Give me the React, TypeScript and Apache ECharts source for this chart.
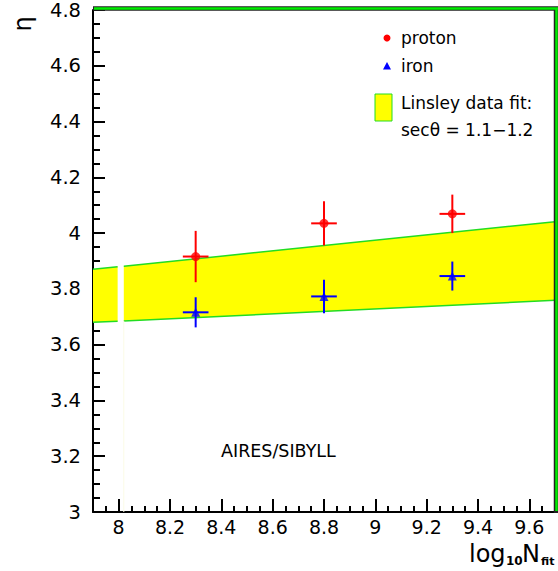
import React, { useEffect, useRef } from "react";
import * as echarts from "echarts";

// ---- data ----
const xTicks = [8, 8.2, 8.4, 8.6, 8.8, 9, 9.2, 9.4, 9.6];
const xMin = 7.9;
const xMax = 9.7;
const yMin = 3;
const yMax = 4.8;

const protonX = [8.3, 8.8, 9.3];
const protonY = [3.916, 4.035, 4.069];
const protonXErr = [0.05, 0.05, 0.05];
const protonYErr = [0.092, 0.079, 0.069];

const ironX = [8.3, 8.8, 9.3];
const ironY = [3.716, 3.773, 3.846];
const ironXErr = [0.05, 0.05, 0.05];
const ironYErr = [0.054, 0.06, 0.052];

// Linsley data fit band (secθ = 1.1–1.2), drawn in two segments
const bandXStart = [7.9, 8.02];
const bandXEnd = [7.996, 9.7];
const bandLowerStart = [3.68, 3.685];
const bandLowerEnd = [3.684, 3.759];
const bandUpperStart = [3.87, 3.881];
const bandUpperEnd = [3.879, 4.041];

const FONT = "DejaVu Sans";
const GREEN = "#22dd22";

export default function App() {
  const ref = useRef<HTMLDivElement>(null);
  useEffect(() => {
    if (!ref.current) return;
    const chart = echarts.init(ref.current, undefined, { renderer: "svg" });

    const bandData = bandXStart.map((x0, i) => [
      x0,
      bandXEnd[i],
      bandLowerStart[i],
      bandLowerEnd[i],
      bandUpperStart[i],
      bandUpperEnd[i],
    ]);

    const errRender = (params: any, api: any) => {
      const x = api.value(0);
      const y = api.value(1);
      const xe = api.value(2);
      const ye = api.value(3);
      const l = api.coord([x - xe, y]);
      const r = api.coord([x + xe, y]);
      const t = api.coord([x, y + ye]);
      const b = api.coord([x, y - ye]);
      const color = api.visual("color");
      return {
        type: "group",
        children: [
          { type: "line", shape: { x1: l[0], y1: l[1], x2: r[0], y2: r[1] }, style: { stroke: color, lineWidth: 2 } },
          { type: "line", shape: { x1: t[0], y1: t[1], x2: b[0], y2: b[1] }, style: { stroke: color, lineWidth: 2 } },
        ],
      };
    };

    const option: any = {
      animation: false,
      grid: { left: 93, right: 3, top: 9, bottom: 59, containLabel: false },
      xAxis: {
        type: "value",
        min: xMin,
        max: xMax,
        splitNumber: 9,
        axisLine: { show: true, onZero: false, lineStyle: { color: "#000", width: 2 } },
        axisTick: { show: true, inside: true, length: 13, customValues: xTicks, lineStyle: { color: "#000", width: 2 } },
        minorTick: { show: true, splitNumber: 4, length: 6, lineStyle: { color: "#000", width: 2 } },
        axisLabel: {
          customValues: xTicks,
          fontFamily: FONT,
          fontSize: 19,
          color: "#000",
          margin: 5,
          formatter: (v: number) => String(Math.round(v * 10) / 10),
        },
        splitLine: { show: false },
      },
      yAxis: {
        type: "value",
        min: yMin,
        max: yMax,
        interval: 0.2,
        axisLine: { show: true, onZero: false, lineStyle: { color: "#000", width: 2 } },
        axisTick: { show: true, inside: true, length: 12, lineStyle: { color: "#000", width: 2 } },
        minorTick: { show: true, splitNumber: 4, length: 7, lineStyle: { color: "#000", width: 2 } },
        axisLabel: {
          fontFamily: FONT,
          fontSize: 19.5,
          color: "#000",
          margin: 12,
          padding: [5, 0, 0, 0],
          formatter: (v: number) => String(Math.round(v * 10) / 10),
        },
        splitLine: { show: false },
      },
      series: [
        {
          type: "custom",
          name: "band",
          data: bandData,
          encode: { x: [0, 1], y: [2, 3, 4, 5] },
          z: 1,
          renderItem: (params: any, api: any) => {
            const x0 = api.value(0), x1 = api.value(1);
            const lo0 = api.value(2), lo1 = api.value(3);
            const up0 = api.value(4), up1 = api.value(5);
            const p0 = api.coord([x0, lo0]);
            const p1 = api.coord([x1, lo1]);
            const p2 = api.coord([x1, up1]);
            const p3 = api.coord([x0, up0]);
            const base = api.coord([x0, yMin]);
            const children: any[] = [
              { type: "polygon", shape: { points: [p0, p1, p2, p3] }, style: { fill: "#ffff00" } },
              { type: "line", shape: { x1: p3[0], y1: p3[1], x2: p2[0], y2: p2[1] }, style: { stroke: GREEN, lineWidth: 1.5 } },
              { type: "line", shape: { x1: p0[0], y1: p0[1], x2: p1[0], y2: p1[1] }, style: { stroke: GREEN, lineWidth: 1.5 } },
            ];
            if (params.dataIndex > 0) {
              children.push({
                type: "line",
                shape: { x1: base[0], y1: base[1], x2: p0[0], y2: p0[1] },
                style: { stroke: "#fbfbe6", lineWidth: 1 },
              });
            }
            return { type: "group", children };
          },
        },
        {
          type: "custom",
          name: "proton err",
          data: protonX.map((x, i) => [x, protonY[i], protonXErr[i], protonYErr[i]]),
          encode: { x: 0, y: 1 },
          itemStyle: { color: "#ff0000" },
          z: 3,
          renderItem: errRender,
        },
        {
          type: "custom",
          name: "iron err",
          data: ironX.map((x, i) => [x, ironY[i], ironXErr[i], ironYErr[i]]),
          encode: { x: 0, y: 1 },
          itemStyle: { color: "#0000ff" },
          z: 3,
          renderItem: errRender,
        },
        {
          type: "scatter",
          name: "proton",
          data: protonX.map((x, i) => [x, protonY[i]]),
          symbol: "circle",
          symbolSize: 9,
          itemStyle: { color: "#ff0000" },
          z: 4,
        },
        {
          type: "scatter",
          name: "iron",
          data: ironX.map((x, i) => [x, ironY[i]]),
          symbol: "triangle",
          symbolSize: 9,
          itemStyle: { color: "#0000ff" },
          z: 4,
        },
      ],
      graphic: [
        // frame top and right
        { type: "line", shape: { x1: 93, y1: 8.5, x2: 558, y2: 8.5 }, style: { stroke: "#222", lineWidth: 4.5 }, z: 10 },
        { type: "line", shape: { x1: 94, y1: 8.5, x2: 558, y2: 8.5 }, style: { stroke: "#00ee00", lineWidth: 2.5 }, z: 11 },
        { type: "line", shape: { x1: 556, y1: 7, x2: 556, y2: 513 }, style: { stroke: "#222", lineWidth: 4.5 }, z: 10 },
        { type: "line", shape: { x1: 556.5, y1: 8, x2: 556.5, y2: 511 }, style: { stroke: "#00ee00", lineWidth: 2.5 }, z: 11 },
        // y title
        {
          type: "text",
          x: 23,
          y: 24,
          rotation: Math.PI / 2,
          style: { text: "η", fontFamily: FONT, fontSize: 24, fill: "#000", align: "center", verticalAlign: "middle" },
        },
        // x title
        { type: "text", x: 469, y: 554, style: { text: "log", fontFamily: FONT, fontSize: 24, fill: "#000", align: "left", verticalAlign: "middle" } },
        { type: "text", x: 506, y: 561, style: { text: "10", fontFamily: FONT, fontSize: 12, fontWeight: "bold", fill: "#000", align: "left", verticalAlign: "middle" } },
        { type: "text", x: 522, y: 554, style: { text: "N", fontFamily: FONT, fontSize: 24, fill: "#000", align: "left", verticalAlign: "middle" } },
        { type: "text", x: 541, y: 561, style: { text: "fit", fontFamily: FONT, fontSize: 11, fontWeight: "bold", fill: "#000", align: "left", verticalAlign: "middle" } },
        // legend
        { type: "circle", shape: { cx: 387, cy: 38, r: 3.5 }, style: { fill: "#ff0000" } },
        { type: "text", x: 401, y: 38, style: { text: "proton", fontFamily: FONT, fontSize: 17, fill: "#000", verticalAlign: "middle" } },
        { type: "polygon", shape: { points: [[387, 62], [383, 69.5], [391, 69.5]] }, style: { fill: "#0000ff" } },
        { type: "text", x: 401, y: 66, style: { text: "iron", fontFamily: FONT, fontSize: 17, fill: "#000", verticalAlign: "middle" } },
        { type: "rect", shape: { x: 375, y: 94, width: 17, height: 27 }, style: { fill: "#ffff00", stroke: GREEN, lineWidth: 1 } },
        { type: "text", x: 401, y: 103, style: { text: "Linsley data fit:", fontFamily: FONT, fontSize: 17, fill: "#000", verticalAlign: "middle" } },
        { type: "text", x: 401, y: 130, style: { text: "secθ = 1.1−1.2", fontFamily: FONT, fontSize: 17, fill: "#000", verticalAlign: "middle" } },
        // annotation
        { type: "text", x: 221, y: 451, style: { text: "AIRES/SIBYLL", fontFamily: FONT, fontSize: 17.5, fill: "#000", verticalAlign: "middle" } },
      ],
    };
    chart.setOption(option);
    return () => chart.dispose();
  }, []);
  return <div ref={ref} style={{ width: 558, height: 571, position: "absolute", left: 0, top: 0 }} />;
}
